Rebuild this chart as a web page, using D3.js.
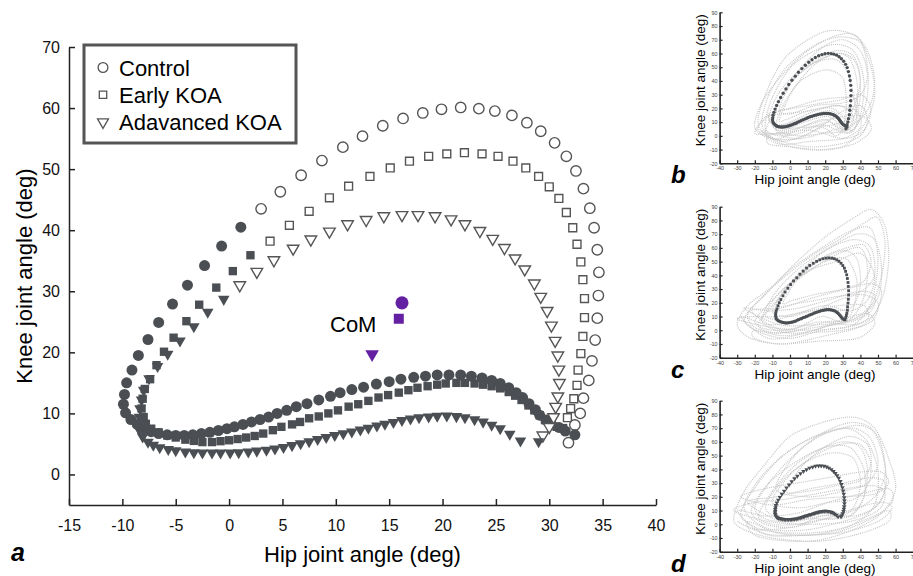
<!DOCTYPE html>
<meta charset="utf-8">
<body style="margin:0;background:#fff">
<div class="chart"></div>
<script src="https://d3js.org/d3.v7.min.js"></script>
<script>

    // ---- main chart data: [hip, knee] per gait sample
    const controlStance = [[32.4,6.5],[31.5,7.1],[30.9,7.7],[30.2,8.2],[29.7,8.9],[29.1,9.7],[28.7,10.6],[28.1,11.6],[27.5,12.6],[26.9,13.4],[26.2,14.2],[25.4,14.9],[24.6,15.4],[23.7,15.8],[22.7,16.1],[21.7,16.3],[20.6,16.3],[19.5,16.3],[18.4,16.1],[17.3,15.9],[16.1,15.6],[15.0,15.2],[13.8,14.8],[12.6,14.3],[11.5,13.9],[10.4,13.4],[9.5,12.8],[8.4,12.2],[7.3,11.6],[6.3,11.1],[5.4,10.5],[4.5,10.0],[3.7,9.4],[2.9,9.0],[2.1,8.6],[1.3,8.2],[0.5,7.8],[-0.2,7.5],[-1.0,7.2],[-1.8,6.9],[-2.6,6.7],[-3.4,6.5],[-4.2,6.4],[-5.0,6.4],[-5.8,6.5],[-6.6,6.7],[-7.3,7.0],[-8.0,7.5],[-8.6,8.2],[-9.2,9.0],[-9.7,10.1],[-9.9,11.5],[-9.8,13.1],[-9.6,15.0],[-9.1,17.1],[-8.5,19.5],[-7.6,22.1],[-6.6,24.9],[-5.3,27.9],[-3.9,31.0],[-2.3,34.2],[-0.7,37.4],[1.1,40.5]];
    const controlSwing = [[3.0,43.5],[4.8,46.3],[6.75,49.0],[8.7,51.4],[10.66,53.6],[12.5,55.4],[14.4,57.1],[16.3,58.3],[18.15,59.2],[19.9,59.8],[21.7,60.1],[23.4,59.9],[24.9,59.5],[26.5,58.8],[27.9,57.6],[29.2,56.2],[30.5,54.3],[31.6,52.1],[32.5,49.7],[33.2,46.8],[33.8,43.6],[34.2,40.4],[34.5,36.8],[34.65,33.1],[34.6,29.3],[34.5,25.6],[34.3,22.0],[34.0,18.6],[33.7,15.4],[33.2,12.5],[32.9,10.0],[32.4,8.1],[31.8,5.2]];

    const earlyStance = [[31.3,7.6],[30.7,7.8],[30.1,8.2],[29.6,8.9],[29.1,9.7],[28.6,10.5],[28.05,11.3],[27.4,12.2],[26.8,12.9],[26.2,13.5],[25.4,14.1],[24.6,14.45],[23.8,14.7],[23.0,14.9],[22.1,15.0],[21.3,15.0],[20.3,14.9],[19.5,14.7],[18.6,14.45],[17.65,14.2],[16.8,13.8],[15.9,13.4],[14.9,13.0],[14.0,12.6],[13.05,12.05],[12.1,11.5],[11.2,11.1],[10.2,10.5],[9.3,10.0],[8.4,9.5],[7.5,9.2],[6.65,8.6],[5.9,8.2],[4.9,7.8],[4.1,7.25],[3.2,6.7],[2.4,6.3],[1.6,6.05],[0.8,5.8],[0.0,5.6],[-0.8,5.45],[-1.6,5.3],[-2.5,5.3],[-3.3,5.5],[-4.1,5.7],[-5.0,6.05],[-5.8,6.4],[-6.6,6.9],[-7.3,7.5],[-7.8,8.3],[-8.0,9.4],[-8.2,10.8],[-8.1,12.4],[-7.9,14.0],[-7.4,15.6],[-6.8,17.9],[-6.1,20.1],[-5.2,22.4],[-4.0,25.1],[-2.8,27.8],[-1.2,30.6],[0.35,33.3],[2.0,35.9]];
    const earlySwing = [[3.84,38.2],[5.65,40.8],[7.5,43.1],[9.4,45.3],[11.2,47.2],[13.2,48.8],[15.1,50.2],[16.9,51.3],[18.7,52.1],[20.4,52.5],[22.05,52.7],[23.7,52.5],[25.2,52.1],[26.6,51.3],[27.8,50.2],[29.0,48.8],[30.0,47.1],[30.9,45.2],[31.6,42.9],[32.2,40.4],[32.6,37.7],[32.96,34.8],[33.15,31.9],[33.3,28.8],[33.3,25.7],[33.15,22.6],[32.96,19.8],[32.7,17.1],[32.6,14.6],[32.3,12.4],[32.0,10.8],[31.7,9.3]];

    const advancedStance = [[29.0,5.4],[27.3,5.5],[26.3,6.6],[25.4,7.5],[24.6,8.1],[23.8,8.6],[23.0,9.0],[22.1,9.3],[21.3,9.5],[20.4,9.6],[19.5,9.55],[18.7,9.45],[17.8,9.3],[17.0,9.1],[16.2,8.85],[15.4,8.55],[14.6,8.25],[13.85,7.95],[13.05,7.6],[12.3,7.3],[11.5,7.0],[10.7,6.7],[9.9,6.4],[9.1,6.1],[8.3,5.75],[7.5,5.4],[6.7,5.05],[5.9,4.75],[5.1,4.45],[4.3,4.2],[3.5,4.0],[2.6,3.85],[1.8,3.7],[0.9,3.6],[0.1,3.55],[-0.8,3.55],[-1.6,3.55],[-2.5,3.55],[-3.3,3.6],[-4.1,3.7],[-5.0,3.9],[-5.7,4.1],[-6.5,4.4],[-7.1,4.8],[-7.6,5.3],[-8.1,6.15],[-8.4,7.25],[-8.5,8.35],[-8.4,9.4],[-8.35,10.8],[-8.2,12.2],[-8.0,13.8],[-7.5,15.7],[-6.7,17.7],[-5.75,19.7],[-4.6,21.9],[-3.3,24.2],[-2.0,26.6],[-0.5,28.7]];
    const advancedSwing = [[1.0,31.0],[2.6,33.2],[4.2,35.1],[6.0,37.0],[7.66,38.5],[9.4,39.8],[11.1,41.0],[12.84,41.7],[14.5,42.3],[16.2,42.5],[17.7,42.5],[19.3,42.3],[20.8,41.8],[22.1,41.0],[23.5,39.9],[24.7,38.6],[25.8,37.1],[26.8,35.4],[27.7,33.6],[28.6,31.3],[29.2,29.1],[29.8,26.8],[30.2,24.4],[30.55,21.9],[30.8,19.5],[30.9,17.2],[30.95,15.0],[30.8,12.8],[30.6,11.1],[30.4,9.4],[30.0,7.8],[29.4,6.4]];

    // centre of mass of each loop
    const comHip = [16.2, 15.9, 13.4];
    const comKnee = [28.1, 25.5, 19.7];

    const groupNames = ["Control", "Early KOA", "Adavanced KOA"];
    const hipTicks = [-15,-10,-5,0,5,10,15,20,25,30,35,40];
    const kneeTicks = [0,10,20,30,40,50,60,70];

    // ---- small panels: individual trials (rough outlines of the grey cloud)
    const cloudB = [
        [[-18,8],[-14,30],[-2,58],[20,76],[38,72],[46,50],[48,28],[42,8],[30,-8],[10,-10],[-8,-4]],
        [[-14,6],[-10,28],[2,52],[22,66],[36,62],[42,40],[40,15],[34,2],[22,10],[6,2],[-6,0]],
        [[-12,12],[-6,32],[8,50],[24,56],[32,48],[36,30],[38,10],[34,4],[24,18],[10,14],[-4,8]],
        [[-8,4],[-4,22],[6,40],[20,48],[30,42],[32,22],[30,6],[26,0],[18,6],[4,-2]],
        [[-16,4],[-4,-4],[14,4],[30,18],[40,22],[44,12],[40,0],[28,-6],[10,-8],[-10,-2]],
        [[-20,2],[-10,16],[10,22],[28,26],[40,30],[46,20],[42,4],[30,-2],[12,4],[-6,2]],
        [[-6,20],[4,46],[18,64],[30,70],[40,62],[44,44],[40,30],[30,24],[14,22],[0,16]],
        [[-12,16],[0,20],[16,26],[30,28],[38,26],[36,14],[24,8],[6,6],[-8,6]],
        [[-16,10],[-12,30],[-2,50],[14,66],[28,72],[40,68],[44,50],[44,30],[40,12],[32,2],[18,8],[0,2],[-12,2]],
        [[-10,8],[-6,26],[4,44],[18,56],[30,60],[38,52],[40,34],[38,14],[32,4],[22,14],[8,10],[-4,4]],
        [[-14,2],[-8,20],[0,38],[14,54],[26,62],[36,58],[40,40],[36,20],[30,4],[20,12],[6,6],[-6,-2]],
        [[-18,4],[-14,14],[-4,16],[10,18],[26,22],[38,18],[40,6],[30,-2],[12,-4],[-6,-6]],
        [[-12,0],[0,4],[16,10],[30,14],[42,14],[46,4],[36,-6],[18,-10],[0,-8],[-12,-6]],
        [[-6,12],[2,34],[14,52],[26,60],[34,56],[38,40],[38,22],[34,10],[24,20],[10,18],[-2,12]],
        [[-20,6],[-16,24],[-6,42],[8,60],[24,72],[36,74],[44,62],[48,42],[46,24],[38,10],[24,4],[6,-2],[-10,-2]],
        [[-8,6],[0,10],[14,18],[28,22],[36,14],[32,4],[20,2],[6,0],[-4,2]]
    ];
    const cloudC = [
        [[-30,4],[-24,18],[-10,32],[4,50],[20,68],[34,80],[46,88],[54,76],[56,50],[52,22],[42,4],[20,-4],[-4,-10],[-22,-6]],
        [[-26,8],[-14,26],[0,44],[18,60],[34,72],[46,74],[50,50],[46,20],[36,4],[18,0],[0,-6],[-16,-2]],
        [[-20,6],[-10,22],[4,38],[20,50],[32,52],[38,36],[36,16],[30,6],[18,10],[4,2],[-10,0]],
        [[-14,12],[-4,30],[12,44],[26,50],[40,56],[48,40],[44,22],[34,14],[20,18],[4,12],[-8,8]],
        [[-28,10],[-12,4],[6,8],[24,20],[40,26],[50,20],[46,6],[30,0],[10,-2],[-12,-6]],
        [[-22,14],[-6,16],[14,24],[32,30],[46,34],[52,28],[48,12],[36,4],[16,6],[-4,0]],
        [[-8,18],[4,40],[20,58],[36,66],[46,60],[48,40],[40,28],[24,24],[6,20]],
        [[-24,12],[-16,24],[-4,38],[12,54],[28,66],[42,78],[50,82],[54,64],[52,40],[46,18],[32,6],[14,2],[-6,-2],[-20,2]],
        [[-18,4],[-10,18],[0,32],[14,46],[28,56],[40,60],[44,46],[42,24],[34,8],[20,6],[4,0],[-10,-2]],
        [[-26,16],[-12,14],[4,16],[22,22],[38,28],[48,26],[46,14],[34,6],[14,4],[-6,4]],
        [[-20,0],[-4,-4],[14,0],[30,8],[44,12],[48,4],[38,-6],[16,-8],[-6,-10],[-20,-6]],
        [[-10,14],[0,34],[16,50],[30,58],[38,52],[40,34],[36,18],[26,14],[12,14],[0,10]],
        [[-16,8],[-8,28],[6,46],[22,60],[38,70],[48,66],[52,46],[50,24],[40,10],[24,4],[6,-2],[-8,0]],
        [[-30,8],[-20,10],[-6,10],[10,14],[28,18],[42,18],[44,8],[32,2],[12,0],[-10,2]],
        [[-4,20],[6,40],[20,54],[32,60],[42,62],[46,50],[42,36],[30,30],[14,26],[2,22]]
    ];
    const cloudD = [
        [[-32,4],[-26,24],[-14,44],[0,64],[18,74],[36,78],[48,70],[56,48],[60,26],[52,8],[36,-4],[14,-12],[-10,-10],[-26,-4]],
        [[-28,8],[-18,30],[-4,50],[14,64],[32,70],[44,60],[50,38],[48,14],[36,0],[16,-6],[-6,-6],[-20,-2]],
        [[-22,10],[-12,30],[4,46],[20,56],[34,56],[42,40],[42,20],[34,6],[18,6],[2,-2],[-14,0]],
        [[-14,12],[-4,32],[10,46],[24,52],[36,48],[40,30],[36,12],[26,4],[12,4],[-2,2]],
        [[-30,10],[-14,6],[4,8],[22,16],[40,22],[56,26],[58,16],[46,4],[26,-6],[4,-8],[-16,-6]],
        [[-24,16],[-8,20],[12,26],[30,30],[46,34],[54,30],[50,14],[36,6],[16,8],[-4,2]],
        [[-8,26],[4,52],[20,66],[36,70],[46,62],[50,44],[44,30],[30,24],[10,20]],
        [[-26,14],[-18,32],[-6,48],[8,60],[24,68],[40,72],[50,64],[54,44],[54,24],[46,10],[30,2],[10,-4],[-10,-4],[-22,4]],
        [[-18,6],[-10,24],[2,42],[16,54],[30,60],[40,56],[44,40],[42,20],[34,6],[20,4],[4,0],[-10,0]],
        [[-32,10],[-20,16],[-4,18],[14,22],[32,26],[48,28],[54,22],[50,10],[34,2],[12,0],[-12,2]],
        [[-24,2],[-8,-6],[10,-8],[28,-4],[44,4],[56,10],[56,2],[42,-6],[20,-12],[-4,-12],[-20,-8]],
        [[-10,16],[0,36],[14,50],[28,58],[40,58],[46,44],[44,28],[36,18],[22,16],[6,12]],
        [[-20,12],[-12,30],[2,50],[18,66],[34,74],[46,70],[52,54],[54,36],[48,20],[36,10],[18,6],[-2,2],[-14,4]],
        [[-28,20],[-14,26],[4,30],[22,34],[40,38],[52,38],[56,30],[48,22],[30,20],[10,18],[-10,14]],
        [[-2,24],[8,44],[22,58],[34,64],[44,58],[46,44],[40,32],[26,28],[10,24]],
        [[-30,2],[-18,-4],[2,-2],[20,4],[38,12],[52,16],[58,12],[50,2],[30,-6],[8,-8],[-12,-8]]
    ];
    const panelHipTicks = [-40,-30,-20,-10,0,10,20,30,40,50,60,70];
    const panelKneeTicks = [-20,-10,0,10,20,30,40,50,60,70,80,90];

    const font = "'Liberation Sans', Arial, Helvetica, sans-serif";
    const dark = "#4b4f54";
    const edge = "#555";
    const purple = "#6420a3";

    const svg = d3.select(".chart").append("svg")
        .attr("width", 913)
        .attr("height", 576)
        .style("font-family", font);

    // marker shapes, sizes given as symbol areas
    let shapeOf = {
        circle: d3.symbolCircle,
        square: d3.symbolSquare,
        triangle: d3.symbolTriangle
    };
    function markers(g, data, shape, area, filled, sx, sy, fillColour) {
        g.append("g")
            .selectAll("path")
            .data(data)
            .join("path")
            .attr("d", d3.symbol().type(shapeOf[shape]).size(area))
            .attr("transform", d => `translate(${sx(d[0])},${sy(d[1])})` + (shape === "triangle" ? " rotate(180)" : ""))
            .attr("fill", filled ? (fillColour || dark) : "white")
            .attr("stroke", filled ? "none" : edge)
            .attr("stroke-width", 1.4);
    }
    let plain = d => String(d);

    // ================= panel a =================
    let x = d3.scaleLinear().domain([-15, 40]).range([69, 656]);
    let y = d3.scaleLinear().domain([-5, 70]).range([505, 47]);

    let xAxis = svg.append("g")
        .attr("transform", `translate(0,${y(-5)})`)
        .call(d3.axisBottom(x).tickValues(hipTicks).tickFormat(plain).tickSizeInner(-6).tickSizeOuter(0).tickPadding(14.5));
    let yAxis = svg.append("g")
        .attr("transform", `translate(${x(-15)},0)`)
        .call(d3.axisLeft(y).tickValues(kneeTicks).tickFormat(plain).tickSizeInner(-6).tickSizeOuter(0).tickPadding(9));
    [xAxis, yAxis].forEach(a => {
        a.selectAll("text").style("font-size", "16px").style("font-family", font).attr("fill", "#111");
        a.selectAll("line").attr("stroke", "#222").attr("stroke-width", 1.5);
        a.select(".domain").attr("stroke", "#222").attr("stroke-width", 1.5);
    });

    svg.append("text")
        .attr("x", (x(-15) + x(40)) / 2).attr("y", 562)
        .attr("text-anchor", "middle").style("font-size", "22px")
        .text("Hip joint angle (deg)");
    svg.append("text")
        .attr("transform", `translate(32,${(y(-5) + y(70)) / 2}) rotate(-90)`)
        .attr("text-anchor", "middle").style("font-size", "22px")
        .text("Knee joint angle (deg)");
    svg.append("text")
        .attr("x", 11).attr("y", 561)
        .style("font-size", "25px").style("font-weight", "bold").style("font-style", "italic")
        .text("a");

    let plot = svg.append("g");
    markers(plot, earlySwing, "square", 62, false, x, y);
    markers(plot, earlyStance, "square", 70, true, x, y);
    markers(plot, controlSwing, "circle", 85, false, x, y);
    markers(plot, controlStance, "circle", 95, true, x, y);
    markers(plot, advancedSwing, "triangle", 58, false, x, y);
    markers(plot, advancedStance, "triangle", 58, true, x, y);

    // centre of mass
    let com = [0, 1, 2].map(i => [comHip[i], comKnee[i]]);
    markers(plot, [com[0]], "circle", 135, true, x, y, purple);
    markers(plot, [com[1]], "square", 100, true, x, y, purple);
    markers(plot, [com[2]], "triangle", 80, true, x, y, purple);
    svg.append("text")
        .attr("x", 330).attr("y", 332)
        .style("font-size", "22px")
        .text("CoM");

    // legend
    let legend = svg.append("g");
    legend.append("rect")
        .attr("x", 84).attr("y", 45).attr("width", 212).attr("height", 98)
        .attr("fill", "white").attr("stroke", edge).attr("stroke-width", 3);
    let legendShapes = [["circle", 75], ["square", 55], ["triangle", 52]];
    let legendY = d3.scalePoint().domain(groupNames).range([67.5, 122]);
    groupNames.forEach((name, i) => {
        let row = legend.append("g").attr("transform", `translate(0,${legendY(name)})`);
        row.append("path")
            .attr("d", d3.symbol().type(shapeOf[legendShapes[i][0]]).size(legendShapes[i][1]))
            .attr("transform", "translate(103,0)" + (i === 2 ? " rotate(180)" : ""))
            .attr("fill", "white").attr("stroke", edge).attr("stroke-width", 1.3);
        row.append("text")
            .attr("x", 119).attr("y", 8)
            .style("font-size", "22px")
            .text(name);
    });

    // ================= panels b, c, d =================
    const panels = [
        {label: "b", top: 12.3, cloud: cloudB, stance: controlStance, swing: controlSwing, shape: "circle", area: 9},
        {label: "c", top: 206.7, cloud: cloudC, stance: earlyStance, swing: earlySwing, shape: "square", area: 8},
        {label: "d", top: 400.7, cloud: cloudD, stance: advancedStance, swing: advancedSwing, shape: "triangle", area: 9}
    ];

    panels.forEach(p => {
        let px = d3.scaleLinear().domain([-40, 70]).range([719.6, 913.2]);
        let py = d3.scaleLinear().domain([-20, 90]).range([p.top + 151, p.top]);
        let g = svg.append("g");

        let line = d3.line().x(d => px(d[0])).y(d => py(d[1])).curve(d3.curveCardinalClosed.tension(0.1));
        g.append("g")
            .selectAll("path")
            .data(p.cloud)
            .join("path")
            .attr("d", line)
            .attr("fill", "none")
            .attr("stroke", "#c6c6c6")
            .attr("stroke-width", 1.2)
            .attr("stroke-dasharray", "1 1");

        markers(g, p.swing.concat(p.stance), p.shape, p.area, true, px, py);

        let ax = g.append("g")
            .attr("transform", `translate(0,${py(-20)})`)
            .call(d3.axisBottom(px).tickValues(panelHipTicks).tickFormat(plain).tickSizeInner(-3).tickSizeOuter(0).tickPadding(3));
        let ay = g.append("g")
            .attr("transform", `translate(${px(-40)},0)`)
            .call(d3.axisLeft(py).tickValues(panelKneeTicks).tickFormat(plain).tickSizeInner(-3).tickSizeOuter(0).tickPadding(2));
        [ax, ay].forEach(a => {
            a.selectAll("text").style("font-size", "5.5px").style("font-family", font).attr("fill", "#444");
            a.selectAll("line").attr("stroke", "#222").attr("stroke-width", 1.2);
            a.select(".domain").attr("stroke", "#222").attr("stroke-width", 1.6);
        });

        g.append("text")
            .attr("x", 815).attr("y", py(-20) + 21)
            .attr("text-anchor", "middle").style("font-size", "13.5px")
            .text("Hip joint angle (deg)");
        g.append("text")
            .attr("transform", `translate(705,${p.top + 68}) rotate(-90)`)
            .attr("text-anchor", "middle").style("font-size", "13.5px")
            .text("Knee joint angle (deg)");
        g.append("text")
            .attr("x", 671).attr("y", py(-20) + 20)
            .style("font-size", "24px").style("font-weight", "bold").style("font-style", "italic")
            .text(p.label);
    });

</script>
